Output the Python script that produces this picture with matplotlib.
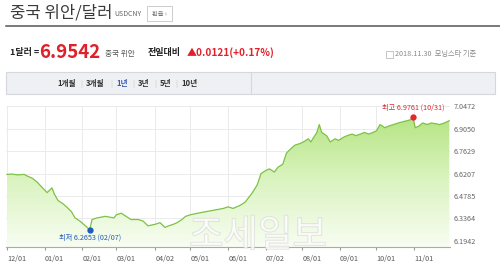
import numpy as np
import matplotlib
matplotlib.use('Agg')
import matplotlib.pyplot as plt
import matplotlib.dates as mdates
import matplotlib.patheffects as pe
from matplotlib.patches import Rectangle
from matplotlib.lines import Line2D
from matplotlib.colors import LinearSegmentedColormap
from datetime import datetime

plt.rcParams['font.family'] = ['Noto Sans CJK KR', 'DejaVu Sans']

# USD/CNY, 1 year
dates = ['2017-12-01', '2017-12-05', '2017-12-10', '2017-12-15', '2017-12-19',
         '2017-12-22', '2017-12-26', '2017-12-29', '2018-01-03', '2018-01-07',
         '2018-01-09', '2018-01-12', '2018-01-16', '2018-01-19', '2018-01-23',
         '2018-01-26', '2018-01-30', '2018-02-02', '2018-02-05', '2018-02-07',
         '2018-02-09', '2018-02-13', '2018-02-20', '2018-02-27', '2018-03-01',
         '2018-03-05', '2018-03-09', '2018-03-13', '2018-03-19', '2018-03-23',
         '2018-03-27', '2018-04-02', '2018-04-06', '2018-04-10', '2018-04-13',
         '2018-04-17', '2018-04-20', '2018-04-24', '2018-04-27', '2018-05-01',
         '2018-05-07', '2018-05-14', '2018-05-21', '2018-05-28', '2018-06-01',
         '2018-06-05', '2018-06-11', '2018-06-15', '2018-06-18', '2018-06-21',
         '2018-06-25', '2018-06-28', '2018-07-02', '2018-07-05', '2018-07-09',
         '2018-07-12', '2018-07-16', '2018-07-19', '2018-07-23', '2018-07-26',
         '2018-07-30', '2018-08-02', '2018-08-06', '2018-08-08', '2018-08-13',
         '2018-08-15', '2018-08-17', '2018-08-21', '2018-08-24', '2018-08-28',
         '2018-08-31', '2018-09-04', '2018-09-07', '2018-09-11', '2018-09-14',
         '2018-09-18', '2018-09-21', '2018-09-25', '2018-09-28', '2018-10-01',
         '2018-10-04', '2018-10-08', '2018-10-11', '2018-10-15', '2018-10-19',
         '2018-10-24', '2018-10-29', '2018-10-31', '2018-11-02', '2018-11-05',
         '2018-11-08', '2018-11-12', '2018-11-15', '2018-11-19', '2018-11-22',
         '2018-11-26', '2018-11-30']
rates = [6.615, 6.617, 6.612, 6.615, 6.600,
         6.590, 6.565, 6.540, 6.500, 6.530,
         6.490, 6.450, 6.430, 6.410, 6.380,
         6.340, 6.320, 6.300, 6.280, 6.2653,
         6.330, 6.340, 6.350, 6.340, 6.360,
         6.370, 6.350, 6.330, 6.330, 6.320,
         6.290, 6.300, 6.310, 6.280, 6.290,
         6.300, 6.310, 6.330, 6.350, 6.360,
         6.370, 6.380, 6.390, 6.400, 6.410,
         6.400, 6.420, 6.440, 6.470, 6.500,
         6.550, 6.620, 6.640, 6.650, 6.630,
         6.660, 6.680, 6.750, 6.780, 6.800,
         6.810, 6.820, 6.840, 6.820, 6.880,
         6.930, 6.880, 6.860, 6.820, 6.840,
         6.830, 6.850, 6.860, 6.870, 6.860,
         6.870, 6.880, 6.870, 6.880, 6.890,
         6.930, 6.910, 6.920, 6.930, 6.940,
         6.950, 6.960, 6.9761, 6.910, 6.920,
         6.940, 6.930, 6.940, 6.935, 6.930,
         6.940, 6.9542]

tick_dates = ['2017-12-01', '2018-01-01', '2018-02-01', '2018-03-01', '2018-04-02',
              '2018-05-01', '2018-06-01', '2018-07-02', '2018-08-01', '2018-09-01',
              '2018-10-01', '2018-11-01']
tick_labels = ['12/01', '01/01', '02/01', '03/01', '04/02', '05/01', '06/01',
               '07/02', '08/01', '09/01', '10/01', '11/01']
y_ticks = [6.1942, 6.3364, 6.4785, 6.6207, 6.7629, 6.9050, 7.0472]

high_date, high_val = '2018-10-31', 6.9761
low_date, low_val = '2018-02-07', 6.2653

W, H = 500, 267


def px(x, y):
    return x / W, 1 - y / H


fig = plt.figure(figsize=(W / 100, H / 100), dpi=100)
fig.patch.set_facecolor('white')

# ---- header ----
fig.text(*px(10, 13), '중국 위안/달러', fontsize=12, color='#3a3a3a', va='center')
fig.text(*px(114, 14), 'USDCNY', fontsize=5, color='#666666', va='center')
fig.patches.append(Rectangle(px(147, 21), 25 / W, 15 / H, transform=fig.transFigure,
                             facecolor='white', edgecolor='#cccccc', lw=0.7))
fig.text(*px(159, 13.5), '환율 ›', fontsize=4.5, color='#777777', va='center', ha='center')
fig.lines.append(Line2D([6 / W, 1], [1 - 26 / H] * 2, transform=fig.transFigure,
                        color='#555555', lw=1.1))

fig.text(*px(10, 53), '1달러 =', fontsize=6.5, color='#222222', va='center', weight='bold')
fig.text(*px(39, 52), '6.9542', fontsize=13.5, color='#e0202a', va='center', weight='bold')
fig.text(*px(105, 54), '중국 위안', fontsize=5.5, color='#555555', va='center')
fig.text(*px(148, 53), '전일대비', fontsize=6.5, color='#222222', va='center', weight='bold')
fig.text(*px(187, 53), '▲0.0121(+0.17%)', fontsize=7.2, color='#e0202a', va='center',
         weight='bold')
fig.patches.append(Rectangle(px(386, 58), 7 / W, 7 / H, transform=fig.transFigure,
                             facecolor='none', edgecolor='#bbbbbb', lw=0.6))
fig.text(*px(395, 54), '2018.11.30  모닝스타 기준', fontsize=5.2, color='#888888',
         va='center')

# tab bar
fig.patches.append(Rectangle(px(6, 94), 489 / W, 22 / H, transform=fig.transFigure,
                             facecolor='#eef0f4', edgecolor='#d4d7dd', lw=0.8))
fig.lines.append(Line2D([251 / W] * 2, [1 - 72 / H, 1 - 94 / H], transform=fig.transFigure,
                        color='#d4d7dd', lw=0.8))
tabs = [('1개월', 57), ('3개월', 86), ('1년', 116), ('3년', 138), ('5년', 160), ('10년', 181)]
for i, (lab, x) in enumerate(tabs):
    fig.text(*px(x, 83.5), lab, fontsize=5.5, weight='bold', va='center',
             color='#3a5bb0' if lab == '1년' else '#333333')
    if i < len(tabs) - 1:
        fig.text(*px(tabs[i + 1][1] - 5, 83.5), '|', fontsize=5, va='center',
                 ha='center', color='#cccccc')

# ---- chart ----
ax = fig.add_axes([6 / W, 1 - 247 / H, 444 / W, 141 / H])
x = mdates.datestr2num(dates)
y = np.array(rates)
ybot = 6.1563
ytop = 7.0472
xl = mdates.date2num(datetime(2017, 11, 30, 4))
xr = mdates.date2num(datetime(2018, 11, 30, 14))

cmap = LinearSegmentedColormap.from_list('g', ['#f8fdf2', '#d9f3bd', '#b0e27a'])
grad = np.linspace(0, 1, 256).reshape(-1, 1)
img = ax.imshow(grad, extent=[xl, xr, ybot, ytop], origin='lower', aspect='auto',
                cmap=cmap, zorder=1)
poly = ax.fill_between(x, y, ybot, facecolor='none', lw=0)
img.set_clip_path(poly.get_paths()[0], transform=ax.transData)
ax.plot(x, y, color='#7cc246', lw=0.9, zorder=3)

ax.set_xlim(xl, xr)
ax.set_ylim(ybot, ytop)

ax.set_xticks(mdates.datestr2num(tick_dates))
ax.set_xticklabels(tick_labels, ha='left', fontsize=5.2, color='#555555')
ax.set_yticks(y_ticks)
ax.set_yticklabels(['%.4f' % v for v in y_ticks], fontsize=5.2, color='#666666')
ax.yaxis.tick_right()
ax.tick_params(axis='y', length=0, pad=2.5)
ax.tick_params(axis='x', length=2.5, color='#999999', pad=3)
ax.grid(True, color='#ebebeb', lw=0.7, zorder=0)
ax.set_axisbelow(True)
for s in ['top', 'left', 'right']:
    ax.spines[s].set_visible(False)
ax.spines['bottom'].set_color('#aaaaaa')
ax.spines['bottom'].set_linewidth(0.8)

hx = mdates.datestr2num(high_date)
lx = mdates.datestr2num(low_date)
ax.plot(hx, high_val, 'o', color='#e3262b', ms=3.5, zorder=5, clip_on=False)
ax.plot(lx, low_val, 'o', color='#1f5bbf', ms=3.5, zorder=5, clip_on=False)
ax.annotate('최고 6.9761 (10/31)', (hx, high_val), xytext=(0, 7), textcoords='offset points',
            ha='center', va='center', fontsize=5.2, color='#e3262b', annotation_clip=False)
ax.annotate('최저 6.2653 (02/07)', (lx, low_val), xytext=(0, -6), textcoords='offset points',
            ha='center', va='center', fontsize=5.2, color='#1f5bbf', annotation_clip=False)

# watermark
fig.text(*px(258, 236), '조세일보', fontsize=27, color='white', alpha=0.6,
         ha='center', va='center', zorder=10,
         path_effects=[pe.withStroke(linewidth=1.0, foreground='#d0d0d0')])

fig.savefig('out.png', dpi=100)
